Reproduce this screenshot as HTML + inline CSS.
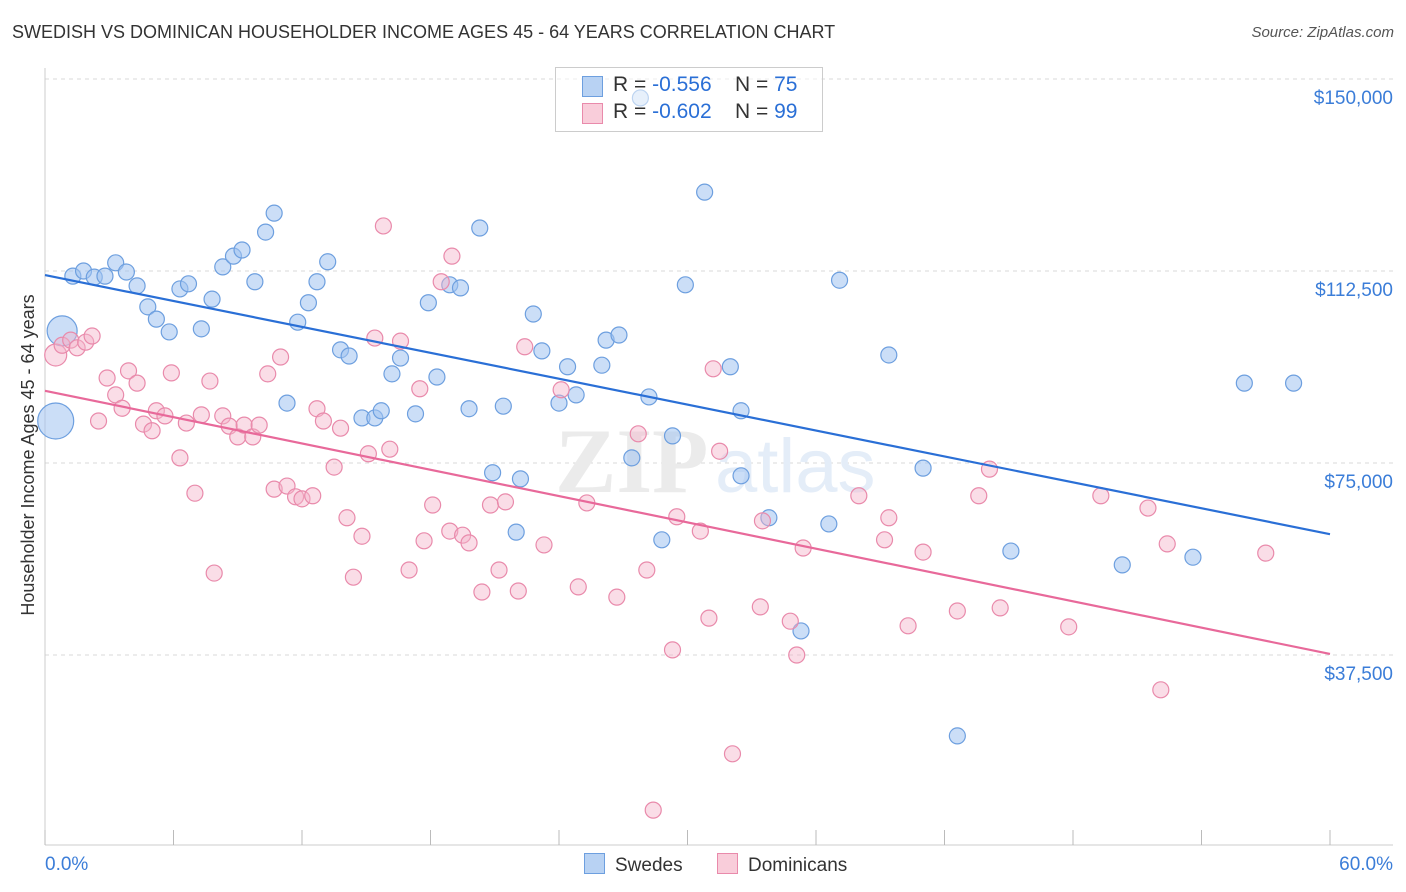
<!DOCTYPE html>
<html><head><meta charset="utf-8"><style>
body{margin:0;background:#fff;font-family:"Liberation Sans",sans-serif;}
#wrap{position:relative;width:1406px;height:892px;overflow:hidden;}
.t{position:absolute;white-space:nowrap;}
</style></head><body>
<div id="wrap">
<div class="t" style="left:12px;top:22px;font-size:18px;color:#333;">SWEDISH VS DOMINICAN HOUSEHOLDER INCOME AGES 45 - 64 YEARS CORRELATION CHART</div>
<div class="t" style="right:12px;top:24px;font-size:15px;color:#555;font-style:italic;">Source: ZipAtlas.com</div>
<svg id="plot" width="1406" height="892" style="position:absolute;left:0;top:0"></svg>
<div class="t" style="left:555px;top:67px;width:266px;height:63px;border:1px solid #ccc;background:rgba(255,255,255,0.55);"></div>
<div class="t" style="left:582px;top:76px;width:19px;height:19px;background:#b8d2f3;border:1px solid #6d9fdf;"></div>
<div class="t" style="left:613px;top:73px;font-size:21px;color:#333;">R = <span style="color:#2a6fd6">-0.556</span>&nbsp;&nbsp;&nbsp; N = <span style="color:#2a6fd6">75</span></div>
<div class="t" style="left:582px;top:103px;width:19px;height:19px;background:#f9cdda;border:1px solid #e98aab;"></div>
<div class="t" style="left:613px;top:100px;font-size:21px;color:#333;">R = <span style="color:#2a6fd6">-0.602</span>&nbsp;&nbsp;&nbsp; N = <span style="color:#2a6fd6">99</span></div>
<div class="t" style="left:584px;top:853px;font-size:19px;color:#333;"><span style="display:inline-block;width:19px;height:19px;background:#b8d2f3;border:1px solid #6d9fdf;vertical-align:-3px;margin-right:10px;"></span>Swedes</div>
<div class="t" style="left:717px;top:853px;font-size:19px;color:#333;"><span style="display:inline-block;width:19px;height:19px;background:#f9cdda;border:1px solid #e98aab;vertical-align:-3px;margin-right:10px;"></span>Dominicans</div>
</div>
<script>
const xTicks=[0,60];
const yTicks=[37500,75000,112500,150000];
const yTickLabels=["$37,500","$75,000","$112,500","$150,000"];
const blueX=[0.8,0.5,1.3,1.8,2.3,2.8,3.3,3.8,4.3,4.8,5.2,5.8,6.3,6.7,7.3,7.8,8.3,8.8,9.2,9.8,10.3,10.7,11.3,11.8,12.3,12.7,13.2,13.8,14.2,14.8,15.4,15.7,16.2,16.6,17.3,17.9,18.3,18.9,19.4,19.8,20.3,21.4,22.0,22.2,22.8,23.2,24.0,24.4,24.8,26.0,26.2,26.8,27.4,28.2,28.8,29.3,29.9,30.8,32.0,32.5,32.5,33.8,35.3,36.6,37.1,39.4,41.0,42.6,45.1,50.3,53.6,56.0,58.3,27.8,20.9];
const blueY=[100.8,83.2,111.5,112.5,111.3,111.5,114.1,112.3,109.6,105.5,103.1,100.6,109.0,110.0,101.2,107.0,113.3,115.4,116.6,110.4,120.1,123.8,86.7,102.5,106.3,110.4,114.3,97.1,95.9,83.8,83.8,85.2,92.4,95.5,84.6,106.3,91.8,109.8,109.2,85.6,120.9,86.1,61.5,71.9,104.1,96.9,86.7,93.8,88.3,94.1,99.0,100.0,76.0,87.9,60.0,80.3,109.8,127.9,93.8,85.2,72.5,64.3,42.2,63.1,110.7,96.1,74.0,21.7,57.8,55.1,56.6,90.6,90.6,146.3,73.1];
const pinkX=[0.5,0.8,1.2,1.5,1.9,2.2,2.5,2.9,3.3,3.6,3.9,4.3,4.6,5.0,5.2,5.6,5.9,6.3,6.6,7.0,7.3,7.7,7.9,8.3,8.6,9.0,9.3,9.7,10.0,10.4,10.7,11.0,11.3,11.7,12.0,12.5,12.7,13.0,13.5,13.8,14.1,14.4,14.8,15.1,15.4,15.8,16.1,16.6,17.0,17.5,17.7,18.1,18.5,18.9,19.0,19.5,19.8,20.4,20.8,21.2,21.5,22.1,22.4,23.3,24.1,24.9,25.3,26.7,27.7,28.1,29.5,29.3,30.6,31.0,31.2,31.5,32.1,33.4,33.5,34.8,35.1,35.4,38.0,39.2,39.4,40.3,41.0,42.6,43.6,44.1,44.6,47.8,49.3,51.5,52.1,52.4,57.0,28.4];
const pinkY=[96.1,98.0,99.0,97.5,98.6,99.8,83.2,91.6,88.3,85.7,93.0,90.6,82.6,81.3,85.2,84.2,92.6,76.0,82.8,69.1,84.4,91.0,53.5,84.2,82.2,80.1,82.4,80.1,82.4,92.4,69.9,95.7,70.5,68.4,68.0,68.6,85.6,83.2,74.2,81.8,64.3,52.7,60.7,76.8,99.4,121.3,77.7,98.8,54.1,89.5,59.8,66.8,110.4,61.7,115.4,60.9,59.4,49.8,66.8,54.1,67.4,50.0,97.7,59.0,89.3,50.8,67.2,48.8,80.7,54.1,64.5,38.5,61.7,44.7,93.4,77.3,18.2,46.9,63.7,44.1,37.5,58.4,68.6,60.0,64.3,43.2,57.6,46.1,68.6,73.8,46.7,43.0,68.6,66.2,30.7,59.2,57.4,7.2];
const blueTrend=[111.7,61.1];
const pinkTrend=[89.1,37.7];

const X0=45,X1=1330,YTOP=79;
function sx(p){return X0+(p/60)*(X1-X0);}
function sy(k){return YTOP+(150-k)/37.5*192;}
const svg=document.getElementById('plot');const NS='http://www.w3.org/2000/svg';
function mk(t,a){const e=document.createElementNS(NS,t);for(const k in a)e.setAttribute(k,a[k]);svg.appendChild(e);return e;}
yTicks.forEach((v,i)=>{
 const y=sy(v/1000);
 const g=mk('line',{x1:45,x2:1393,y1:y,y2:y,stroke:'#d8d8d8','stroke-dasharray':'4,4'});
 
 
 const t=mk('text',{x:1393,y:y+25,'text-anchor':'end','font-size':19,fill:'#3b7dd8','font-family':'Liberation Sans'});
 t.textContent=yTickLabels[i];
 
 
});
const ax=mk('line',{x1:45,x2:45,y1:68,y2:845,stroke:'#ccc'});


const bx=mk('line',{x1:45,x2:1393,y1:845,y2:845,stroke:'#ccc'});


for(let i=0;i<=10;i++){const x=sx(i*6);const tk=mk('line',{x1:x,x2:x,y1:830,y2:845,stroke:'#bbb'});
 
 }
xTicks.forEach((v,i)=>{const t=mk('text',{x:i==0?45:1393,y:870,'text-anchor':i==0?'start':'end','font-size':19,fill:'#3b7dd8','font-family':'Liberation Sans'});
 t.textContent=v.toFixed(1)+'%';
 
 });
const yl=mk('text',{x:0,y:0,transform:'translate(34,455) rotate(-90)','text-anchor':'middle','font-size':18,fill:'#333','font-family':'Liberation Sans'});
yl.textContent='Householder Income Ages 45 - 64 years';


const wm=mk('text',{x:555,y:492,'font-size':92,fill:'#ebebeb','font-family':'Liberation Serif','font-weight':'bold'});wm.textContent='ZIP';


const wm2=mk('text',{x:715,y:492,'font-size':76,fill:'#e4edf8','font-family':'Liberation Sans'});wm2.textContent='atlas';


blueX.forEach((x,i)=>{const r=i==1?18:(i==0?15:8);const c=mk('circle',{cx:sx(x),cy:sy(blueY[i]),r:r,fill:'rgba(160,195,240,0.55)',stroke:'#6d9fdf','stroke-width':1.2});
 
 });
pinkX.forEach((x,i)=>{const r=i==0?11:8;const c=mk('circle',{cx:sx(x),cy:sy(pinkY[i]),r:r,fill:'rgba(245,180,202,0.45)',stroke:'#e98aab','stroke-width':1.2});
 
 });
const bl=mk('line',{x1:sx(0),y1:sy(blueTrend[0]),x2:sx(60),y2:sy(blueTrend[1]),stroke:'#2a6fd6','stroke-width':2.2});


const pl=mk('line',{x1:sx(0),y1:sy(pinkTrend[0]),x2:sx(60),y2:sy(pinkTrend[1]),stroke:'#e8699a','stroke-width':2.2});


</script>
</body></html>
